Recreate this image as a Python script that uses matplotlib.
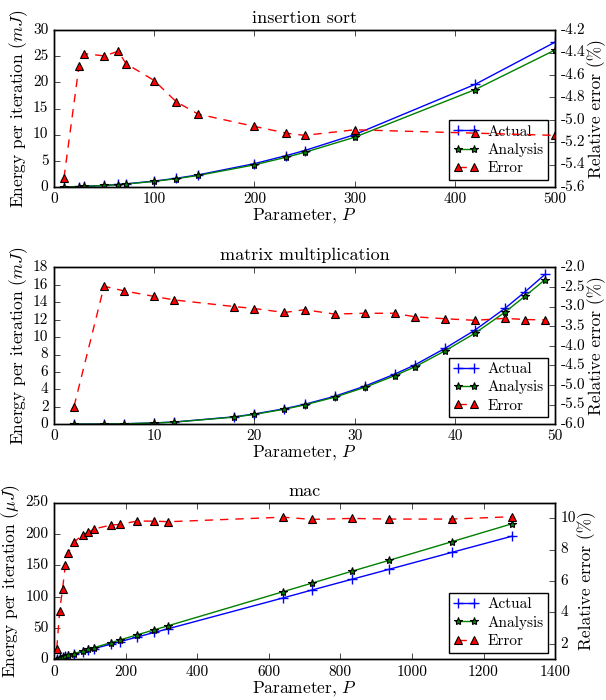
import matplotlib
matplotlib.use("Agg")
import matplotlib.pyplot as plt

plt.style.use("classic")
plt.rcParams.update({
    "font.family": "serif",
    "font.serif": ["cmr10", "DejaVu Serif"],
    "mathtext.fontset": "cm",
    "axes.unicode_minus": False,
    "figure.facecolor": "white",
    "savefig.facecolor": "white",
    "font.size": 11,
    "xtick.labelsize": 11,
    "ytick.labelsize": 11,
    "axes.labelsize": 12.5,
    "axes.titlesize": 13,
    "legend.fontsize": 11,
})

# insertion sort
ins_p = [10, 25, 30, 50, 64, 72, 100, 122, 144, 200, 232, 250, 300, 420, 500]
ins_actual = [0.011, 0.07, 0.10, 0.28, 0.46, 0.58, 1.11, 1.65, 2.3, 4.45, 6.0, 6.95, 10.0, 19.6, 27.7]
ins_analysis = [0.010, 0.067, 0.095, 0.27, 0.44, 0.55, 1.06, 1.57, 2.19, 4.22, 5.69, 6.6, 9.5, 18.6, 26.2]
ins_error = [-5.52, -4.52, -4.41, -4.43, -4.39, -4.50, -4.65, -4.84, -4.95, -5.06, -5.12, -5.14,
             -5.09, -5.12, -5.14]

# matrix multiplication
mm_p = [2, 5, 7, 10, 12, 18, 20, 23, 25, 28, 31, 34, 36, 39, 42, 45, 47, 49]
mm_actual = [0.001, 0.018, 0.05, 0.146, 0.25, 0.85, 1.17, 1.78, 2.28, 3.2, 4.36, 5.75, 6.8,
             8.7, 10.8, 13.3, 15.2, 17.2]
mm_analysis = [0.001, 0.017, 0.048, 0.141, 0.24, 0.82, 1.13, 1.72, 2.21, 3.1, 4.22, 5.57, 6.58,
               8.41, 10.44, 12.86, 14.7, 16.6]
mm_error = [-5.55, -2.48, -2.60, -2.74, -2.83, -3.0, -3.05, -3.15, -3.08, -3.19, -3.17, -3.17,
            -3.26, -3.31, -3.35, -3.30, -3.33, -3.34]

# mac
mac_p = [8, 16, 24, 32, 40, 56, 80, 96, 112, 160, 184, 232, 280, 320, 640, 720, 832, 936, 1112, 1280]
mac_actual = [1.2, 2.5, 3.7, 4.9, 6.1, 8.6, 12.3, 14.7, 17.2, 24.5, 28.2, 35.6, 42.9, 49.0,
              98.0, 110.5, 127.7, 143.6, 170.7, 196.5]
mac_analysis = [1.22, 2.6, 3.9, 5.25, 6.6, 9.3, 13.4, 16.0, 18.8, 26.8, 30.9, 39.1, 47.1, 53.8,
                107.9, 121.5, 140.5, 157.9, 187.7, 216.3]
mac_error = [1.69, 4.11, 5.47, 7.05, 7.79, 8.48, 8.94, 9.11, 9.32, 9.57, 9.61, 9.82, 9.82, 9.78,
             10.07, 9.93, 9.99, 9.95, 9.95, 10.1]

panels = [
    ("insertion sort", ins_p, ins_actual, ins_analysis, ins_error,
     r"Energy per iteration ($mJ$)", (0, 500), (0, 30), (-5.6, -4.2), 0.733),
    ("matrix multiplication", mm_p, mm_actual, mm_analysis, mm_error,
     r"Energy per iteration ($mJ$)", (0, 50), (0, 18), (-6.0, -2.0), 0.394),
    ("mac", mac_p, mac_actual, mac_analysis, mac_error,
     r"Energy per iteration ($\mu J$)", (0, 1400), (0, 250), (1, 11), 0.058),
]

fig = plt.figure(figsize=(6.06, 7.0), dpi=100)

for title, p, actual, analysis, error, ylabel, xlim, ylim, elim, bottom in panels:
    ax = fig.add_axes([0.089, bottom, 0.827, 0.224])
    l1, = ax.plot(p, actual, "b-", marker="+", markersize=7, markeredgewidth=1, label="Actual")
    l2, = ax.plot(p, analysis, "g-", marker="*", markersize=6, markerfacecolor="g",
                  markeredgecolor="k", markeredgewidth=0.8, label="Analysis")
    ax.set_xlim(*xlim)
    ax.set_ylim(*ylim)
    ax.set_title(title)
    ax.set_xlabel(r"Parameter, $P$", labelpad=0)
    ax.set_ylabel(ylabel, labelpad=2)

    ax2 = ax.twinx()
    l3, = ax2.plot(p, error, "r--", marker="^", markersize=6, markerfacecolor="r",
                   markeredgecolor="k", markeredgewidth=0.8, dashes=(6, 5), label="Error")
    ax2.set_ylim(*elim)
    ax2.set_ylabel("Relative error (%)", labelpad=1)

    ax.legend([l1, l2, l3], ["Actual", "Analysis", "Error"], loc="lower right",
              numpoints=2, fancybox=False, borderaxespad=0.45, handlelength=1.6,
              handletextpad=0.6, borderpad=0.3, labelspacing=0.3)

fig.savefig("out.png", dpi=100)
